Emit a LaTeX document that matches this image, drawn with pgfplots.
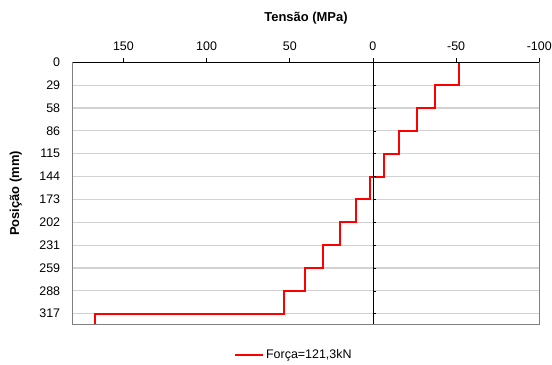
\documentclass[border=0pt]{standalone}
\usepackage{pgfplots}
\pgfplotsset{compat=1.18}
\usepackage{fontspec}
\setmainfont{Liberation Sans}
\definecolor{gridc}{RGB}{210,210,210}
\definecolor{framec}{RGB}{128,128,128}
\definecolor{lred}{RGB}{255,0,0}
\pgfplotsset{legend image code/.code={\draw[#1] (0bp,0bp) -- (28bp,0bp);}}
\begin{document}
\begin{tikzpicture}
\useasboundingbox (-72.7bp,-40.7bp) rectangle (479.3bp,324.3bp);
\begin{axis}[
  at={(0,0)}, anchor=south west,
  scale only axis, width=466.6bp, height=262bp,
  x dir=reverse, y dir=reverse,
  xmin=-100, xmax=180.5, ymin=0, ymax=330.4,
  xtick={-100,-50,0,50,100,150},
  xticklabel pos=upper, xtick pos=upper,
  tick align=outside, major tick length=4bp,
  xtick style={black, line width=0.6pt},
  ytick={0,28.82,57.64,86.46,115.28,144.1,172.92,201.74,230.56,259.38,288.2,317.02},
  yticklabels={0,29,58,86,115,144,173,202,231,259,288,317},
  ytick style={draw=none},
  ymajorgrids, grid style={gridc, line width=1.2bp},
  axis line style={framec, line width=0.8pt},
  /pgf/number format/assume math mode=true,
  ticklabel style={font=\fontsize{12.5}{14}\selectfont},
  xticklabel style={yshift=4bp},
  yticklabel style={xshift=-5bp},
  legend style={at={(0.474,-0.117)}, anchor=center, draw=none, fill=none,
    font=\fontsize{12.5}{14}\selectfont, inner sep=1bp},
  clip=false,
]
\addplot[draw=lred, line width=2bp] coordinates {
 (-51.6,0) (-51.6,28.82) (-37.3,28.82) (-37.3,57.64) (-26.3,57.64) (-26.3,86.46)
 (-15.8,86.46) (-15.8,115.28) (-6.4,115.28) (-6.4,144.1) (2.0,144.1) (2.0,172.92)
 (9.9,172.92) (9.9,201.74) (19.7,201.74) (19.7,230.56) (29.9,230.56) (29.9,259.38)
 (41.0,259.38) (41.0,288.2) (53.4,288.2) (53.4,317.02) (166.9,317.02) (166.9,330.4)
};
\addlegendentry{Força=121,3kN}
\draw[black, line width=0.8pt] (axis cs:-100,0) -- (axis cs:180.5,0);
\draw[black, line width=0.8pt] (axis cs:0,0) -- (axis cs:0,330.4);
\pgfplotsinvokeforeach{28.82,57.64,86.46,115.28,144.1,172.92,201.74,230.56,259.38,288.2,317.02}{
  \draw[black, line width=0.6pt] (axis cs:0,#1) -- ([xshift=3bp]axis cs:0,#1);
}
\node[font=\bfseries\fontsize{13}{15}\selectfont] at ([yshift=44.3bp]axis description cs:0.5,1) {Tensão (MPa)};
\node[font=\bfseries\fontsize{13}{15}\selectfont, rotate=90] at ([xshift=-57bp]axis description cs:0,0.5) {Posição (mm)};
\end{axis}
\end{tikzpicture}
\end{document}
